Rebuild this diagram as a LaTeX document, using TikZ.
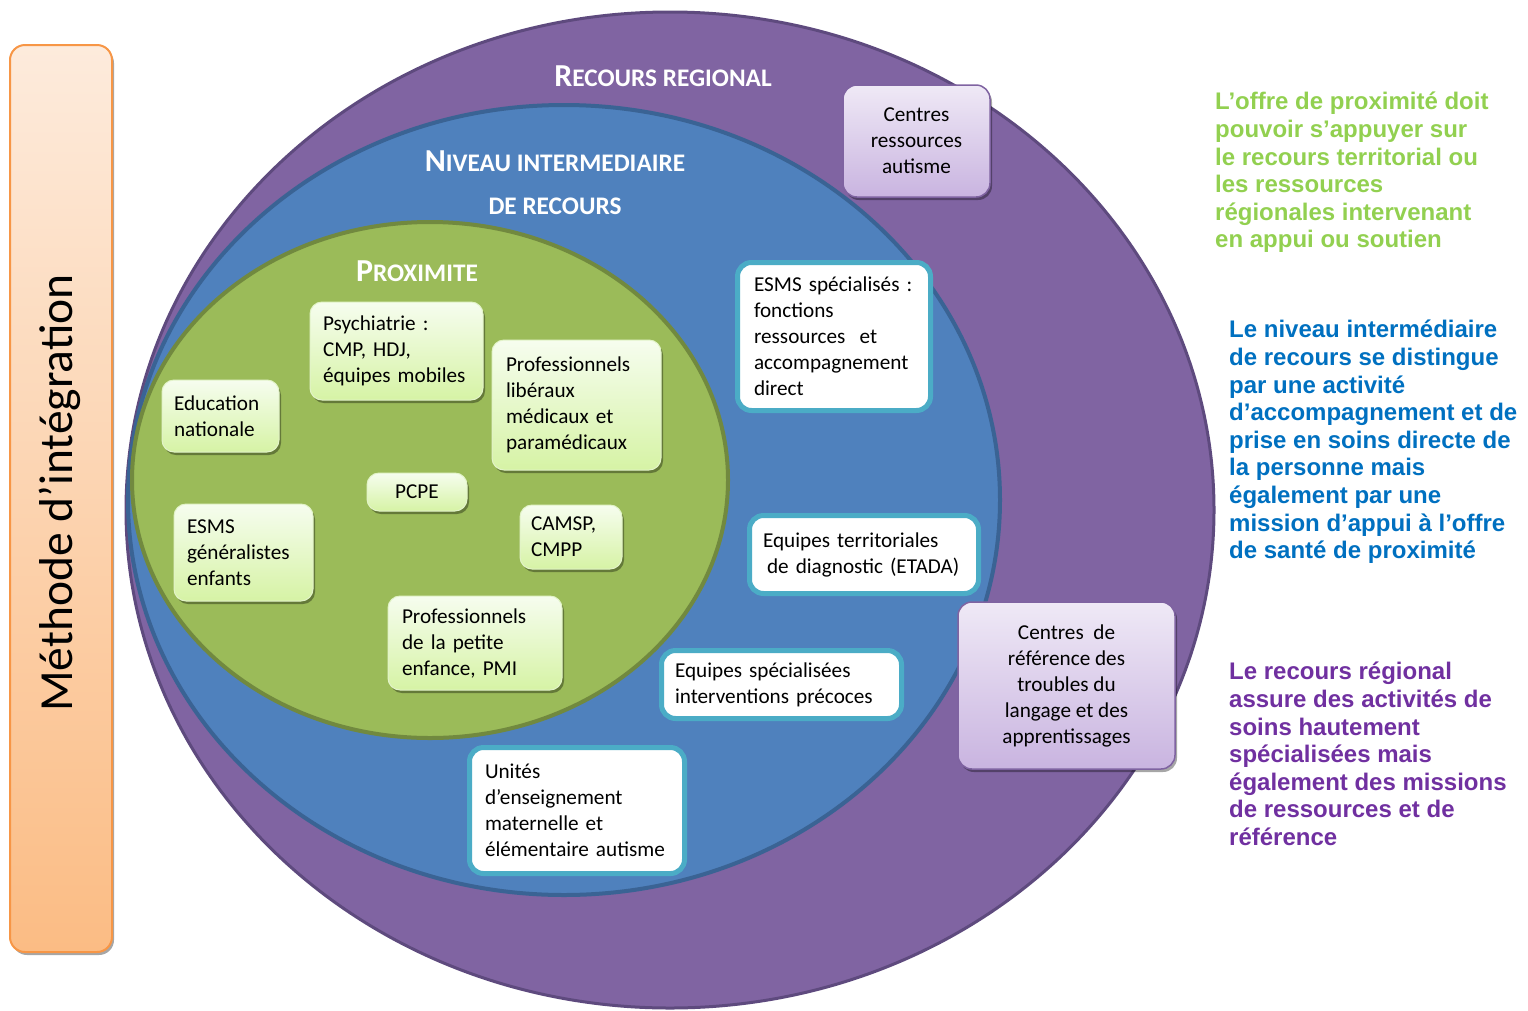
\documentclass[tikz,border=0pt]{standalone}
\usepackage{fontspec}
\setmainfont{Carlito}
\newfontfamily\arialfont{Liberation Sans}
\usetikzlibrary{shadows}
\definecolor{purpc}{HTML}{8064A2}
\definecolor{purpd}{HTML}{5E4A7E}
\definecolor{bluc}{HTML}{4F81BD}
\definecolor{blud}{HTML}{3A6394}
\definecolor{grnc}{HTML}{9BBB59}
\definecolor{grnd}{HTML}{71893F}
\definecolor{tealc}{HTML}{4BACC6}
\definecolor{gtop}{HTML}{F6FDEF}
\definecolor{gbot}{HTML}{D6F3A5}
\definecolor{gedge}{HTML}{E2F3C8}
\definecolor{ltop}{HTML}{EFE9F6}
\definecolor{lbot}{HTML}{C9B4E0}
\definecolor{ledge}{HTML}{7F63A1}
\definecolor{otop}{HTML}{FDEBDC}
\definecolor{obot}{HTML}{FBBC84}
\definecolor{oedge}{HTML}{F79646}
\definecolor{rgreen}{HTML}{92D050}
\definecolor{rblue}{HTML}{0070C0}
\definecolor{rpurple}{HTML}{7030A0}
\newcommand\boxfont{\fontsize{21.2}{26}\selectfont}
\newcommand\rfont{\arialfont\bfseries\fontsize{24}{27.6}\selectfont}
\newcommand\scapt[2]{{\fontsize{32}{32}\selectfont #1}{\fontsize{25.3}{25.3}\selectfont #2}}
\begin{document}
\begin{tikzpicture}[x=1pt,y=-1pt,
  shad/.style={drop shadow={shadow xshift=2pt,shadow yshift=-3pt,opacity=0.35,fill=black}},
  gbox/.style={shad,rounded corners=12pt,top color=gtop,bottom color=gbot,draw=gedge,line width=1pt,font=\boxfont,align=left,inner ysep=0pt},
  tbox/.style={fill=white,draw=tealc,line width=5pt,rounded corners=14pt,font=\boxfont,align=left,inner ysep=0pt},
  lbox/.style={shad,rounded corners=14pt,top color=ltop,bottom color=lbot,draw=ledge,line width=1.5pt,font=\boxfont,align=center,inner ysep=0pt},
  title/.style={text=white,font=\bfseries,inner sep=0pt},
  rtext/.style={anchor=north west,inner sep=0pt,align=left,font=\rfont}]
\useasboundingbox (0,0) rectangle (1528,1010);

% method bar
\node[shad,rounded corners=15pt,top color=otop,bottom color=obot,draw=oedge,line width=2pt,
  minimum width=102pt,minimum height=907pt] (bar) at (61,498.5) {};
\node[rotate=90,font=\fontsize{47.5}{47.5}\selectfont,inner sep=0pt] (meth) at (60,493) {Méthode d’intégration};

% nested levels
\draw[fill=purpc,draw=purpd,line width=3pt] (670,510) ellipse [x radius=544pt,y radius=498pt];
\draw[fill=bluc,draw=blud,line width=4pt] (564,500) ellipse [x radius=436pt,y radius=395pt];
\draw[fill=grnc,draw=grnd,line width=4pt] (430,480) ellipse [x radius=298pt,y radius=258pt];

% titles
\node[title] (trr) at (663,76) {\scapt{R}{ECOURS REGIONAL}};
\node[title] (tni) at (555,161) {\scapt{N}{IVEAU INTERMEDIAIRE}};
\node[title] (tdr) at (555,206) {\scapt{}{DE RECOURS}};
\node[title] (tpx) at (417,271) {\scapt{P}{ROXIMITE}};

% proximity boxes
\node[gbox,minimum width=173pt,minimum height=98pt,text width=147pt,inner xsep=13pt] (psy) at (396.5,351) {Psychiatrie :\\CMP, HDJ,\\équipes mobiles};
\node[gbox,minimum width=169pt,minimum height=130pt,text width=141pt,inner xsep=14pt] (prolib) at (576.5,405) {Professionnels\\libéraux\\médicaux et\\paramédicaux};
\node[gbox,minimum width=117pt,minimum height=72pt,text width=93pt,inner xsep=12pt] (edu) at (220.5,416) {Education\\nationale};
\node[gbox,minimum width=100pt,minimum height=38pt,align=center,inner xsep=4pt] (pcpe) at (417,492) {PCPE};
\node[gbox,minimum width=139pt,minimum height=97pt,text width=113pt,inner xsep=13pt] (esmsg) at (243.5,552.5) {ESMS\\généralistes\\enfants};
\node[gbox,minimum width=102pt,minimum height=64pt,text width=80pt,inner xsep=11pt] (camsp) at (571,537) {CAMSP,\\CMPP};
\node[gbox,minimum width=174pt,minimum height=94pt,text width=146pt,inner xsep=14pt] (pmi) at (475,643) {Professionnels\\de la petite\\enfance, PMI};

% intermediate boxes
\node[tbox,minimum width=193pt,minimum height=148pt,text width=160pt,inner xsep=16.5pt] (esmss) at (834,336.5) {ESMS spécialisés :\\fonctions\\ressources\ \ et\\accompagnement\\direct};
\node[tbox,minimum width=229pt,minimum height=78pt,text width=202pt,inner xsep=13.5pt] (etada) at (864,554.5) {Equipes territoriales\\\hspace*{4pt}de diagnostic (ETADA)};
\node[tbox,minimum width=240pt,minimum height=68pt,text width=213pt,inner xsep=13.5pt] (eqsp) at (781.5,684.5) {Equipes spécialisées\\interventions précoces};
\node[tbox,minimum width=215pt,minimum height=126pt,text width=184pt,inner xsep=15.5pt] (unit) at (577,810.5) {Unités\\d’enseignement\\maternelle et\\élémentaire autisme};

% regional boxes
\node[lbox,minimum width=147pt,minimum height=112pt] (cra) at (916.5,141) {Centres\\ressources\\autisme};
\node[lbox,minimum width=217pt,minimum height=167pt] (crtla) at (1066.5,685.5) {Centres\ \ de\\référence des\\troubles du\\langage et des\\apprentissages};

% right-hand notes
\node[rtext,text=rgreen] (ngreen) at (1215,92) {L’offre de proximité doit\\pouvoir s’appuyer sur\\le recours territorial ou\\les ressources\\régionales intervenant\\en appui ou soutien};
\node[rtext,text=rblue] (nblue) at (1229,320) {Le niveau intermédiaire\\de recours se distingue\\par une activité\\d’accompagnement et de\\prise en soins directe de\\la personne mais\\également par une\\mission d’appui à l’offre\\de santé de proximité};
\node[rtext,text=rpurple] (npurple) at (1229,662) {Le recours régional\\assure des activités de\\soins hautement\\spécialisées mais\\également des missions\\de ressources et de\\référence};
\end{tikzpicture}
\end{document}
